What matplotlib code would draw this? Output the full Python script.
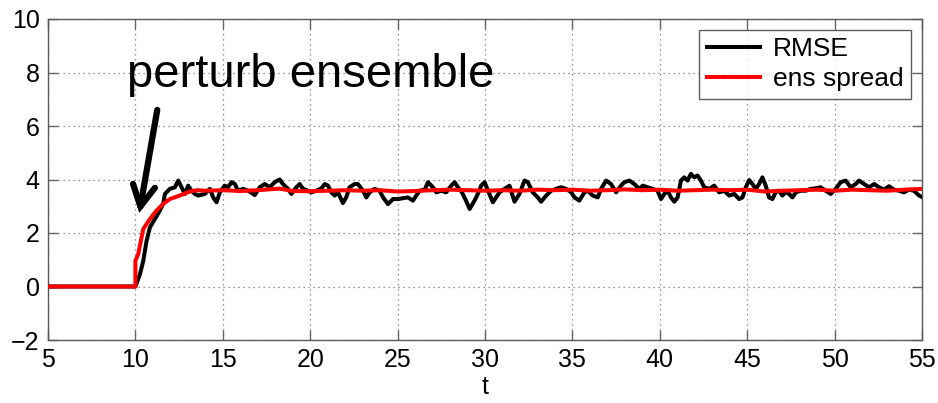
import matplotlib
matplotlib.use("Agg")
import matplotlib.pyplot as plt

plt.rcParams['font.family'] = ['Liberation Sans', 'DejaVu Sans']

# ---- data ----
t_rmse = [5.0, 10.0, 10.26, 10.45, 10.64, 10.83, 11.11, 11.40, 11.59, 11.69, 11.97, 12.26, 12.45,
          12.64, 12.83, 13.02, 13.21, 13.40, 13.59, 13.97, 14.26, 14.45, 14.64, 14.83, 15.11,
          15.30, 15.50, 15.69, 15.88, 16.16, 16.45,
          16.83, 17.11, 17.40, 17.68, 17.97, 18.25, 18.44, 18.73, 18.92, 19.21, 19.40, 19.59,
          19.87, 20.06, 20.35, 20.64, 20.83, 21.02, 21.21, 21.40, 21.59, 21.87, 22.06, 22.25,
          22.54, 22.73, 23.02, 23.21, 23.40, 23.68, 23.97,
          24.17, 24.45, 24.74, 25.02, 25.31, 25.59, 25.88, 26.07, 26.26, 26.55, 26.74, 27.02,
          27.21, 27.50, 27.78, 28.07, 28.26, 28.45, 28.68, 28.87, 29.12, 29.40, 29.59, 29.78,
          29.98, 30.17, 30.45,
          30.83, 31.12, 31.40, 31.69, 31.97, 32.26, 32.45, 32.73, 33.02, 33.21, 33.50, 33.78,
          34.07, 34.35, 34.64, 34.93, 35.12, 35.40, 35.69, 35.88, 36.16, 36.45, 36.64, 36.93,
          37.21, 37.50, 37.78,
          37.97, 38.26, 38.54, 38.83, 39.02, 39.30, 39.59, 39.87, 40.07, 40.26, 40.45, 40.64,
          40.83, 41.02, 41.21, 41.40, 41.59, 41.78, 41.97, 42.16, 42.35, 42.54, 42.83, 43.11,
          43.40, 43.68, 43.97, 44.26, 44.54, 44.73, 44.92,
          45.11, 45.30, 45.49, 45.68, 45.87, 46.06, 46.25, 46.44, 46.63, 46.82, 47.01, 47.20,
          47.40, 47.59, 47.78, 48.06, 48.35, 48.63, 48.92, 49.20, 49.49, 49.78, 50.06, 50.35,
          50.63, 50.92, 51.20,
          51.40, 51.69, 51.97, 52.26, 52.54, 52.83, 53.11, 53.40, 53.69, 53.97, 54.26, 54.54,
          54.83, 55.0]
rmse = [0.0, 0.0, 0.46, 0.96, 1.71, 2.21, 2.52, 2.84, 3.09, 3.46, 3.65, 3.71, 3.96,
        3.71, 3.46, 3.77, 3.58, 3.46, 3.40, 3.46, 3.65, 3.33, 3.15, 3.52, 3.77,
        3.71, 3.90, 3.83, 3.58, 3.65, 3.58,
        3.42, 3.71, 3.83, 3.71, 3.90, 4.00, 3.83, 3.65, 3.46, 3.71, 3.83, 3.65,
        3.58, 3.52, 3.58, 3.67, 3.83, 3.77, 3.52, 3.40, 3.52, 3.12, 3.33, 3.71,
        3.83, 3.83, 3.58, 3.33, 3.52, 3.65, 3.58,
        3.33, 3.08, 3.27, 3.27, 3.30, 3.33, 3.21, 3.40, 3.58, 3.62, 3.90, 3.71,
        3.52, 3.58, 3.52, 3.77, 3.90, 3.71, 3.52, 3.27, 2.90, 3.21, 3.46, 3.77,
        3.90, 3.58, 3.15,
        3.52, 3.65, 3.77, 3.17, 3.46, 3.96, 3.90, 3.52, 3.33, 3.17, 3.40, 3.58,
        3.65, 3.71, 3.65, 3.52, 3.33, 3.21, 3.52, 3.58, 3.40, 3.33, 3.65, 3.96,
        3.83, 3.52, 3.77,
        3.90, 3.96, 3.83, 3.65, 3.77, 3.71, 3.65, 3.58, 3.27, 3.46, 3.58, 3.33,
        3.17, 3.33, 3.96, 4.08, 3.96, 4.21, 4.08, 4.15, 3.96, 3.71, 3.65, 3.77,
        3.52, 3.58, 3.40, 3.46, 3.27, 3.33, 3.71,
        3.98, 3.83, 3.65, 3.83, 4.08, 3.77, 3.33, 3.27, 3.52, 3.58, 3.40, 3.52,
        3.46, 3.33, 3.52, 3.58, 3.58, 3.65, 3.67, 3.71, 3.58, 3.46, 3.65, 3.90,
        3.96, 3.71, 3.83,
        3.96, 3.83, 3.71, 3.83, 3.71, 3.62, 3.75, 3.62, 3.58, 3.52, 3.62, 3.58,
        3.40, 3.35]

t_spread = [5.0, 10.0, 10.0, 10.16, 10.45, 10.83, 11.21, 11.59, 11.97, 12.54, 13.11, 13.5,
            14.0, 15.0, 16.0, 17.0, 18.25, 19.0, 20.0, 21.0, 22.0, 23.0, 24.0, 25.0, 26.0,
            27.0, 28.0, 29.0, 30.0, 31.0, 32.0, 33.0, 34.0, 35.0, 36.0, 37.0, 38.0, 39.0,
            40.0, 41.0, 42.0, 43.0, 44.0, 45.0, 46.0, 47.0, 48.0, 49.0, 50.0, 51.0, 52.0,
            53.0, 54.0, 55.0]
spread = [0.0, 0.0, 0.96, 1.21, 2.15, 2.52, 2.84, 3.09, 3.27, 3.40, 3.55, 3.60,
          3.58, 3.60, 3.57, 3.60, 3.66, 3.57, 3.56, 3.58, 3.60, 3.58, 3.60, 3.55, 3.57,
          3.60, 3.62, 3.60, 3.58, 3.60, 3.58, 3.62, 3.60, 3.62, 3.58, 3.60, 3.63, 3.60,
          3.62, 3.58, 3.60, 3.62, 3.60, 3.62, 3.55, 3.58, 3.60, 3.62, 3.58, 3.62, 3.60,
          3.58, 3.62, 3.65]

x_ticks = [5, 10, 15, 20, 25, 30, 35, 40, 45, 50, 55]
y_ticks = [-2, 0, 2, 4, 6, 8, 10]
series_labels = ['RMSE', 'ens spread']
annotation_text = 'perturb ensemble'
x_label = 't'

# ---- figure ----
fig = plt.figure(figsize=(9.38, 4.03), dpi=100)
ax = fig.add_axes([48/938, 63/403, 874/938, 321/403])

ax.plot(t_rmse, rmse, color='black', lw=2.9, label=series_labels[0], zorder=3,
        solid_joinstyle='round')
ax.plot(t_spread, spread, color='red', lw=2.9, label=series_labels[1], zorder=4,
        solid_joinstyle='round')

ax.set_xlim(5, 55)
ax.set_ylim(-2, 10)
ax.set_xticks(x_ticks)
ax.set_yticks(y_ticks)
ax.set_yticklabels(['\u22122' if v < 0 else str(v) for v in y_ticks])
ax.tick_params(direction='in', length=7, width=1, color='0.4', labelsize=18, pad=6,
               top=True, right=True)
for s in ax.spines.values():
    s.set_color('0.35')
    s.set_linewidth(1)
ax.grid(True, linestyle=(0, (1, 3)), color='0.45', lw=0.9)
ax.set_axisbelow(True)
ax.set_xlabel(x_label, fontsize=18, labelpad=2)

ax.text(9.5, 7.45, annotation_text, fontsize=34, ha='left', va='baseline', zorder=5)
ax.annotate('', xy=(10.22, 2.75), xytext=(11.25, 6.6),
            arrowprops=dict(arrowstyle='->,head_length=1.5,head_width=0.8', lw=4.5,
                            color='black', shrinkA=0, shrinkB=0,
                            joinstyle='miter'), zorder=5)

leg = ax.legend(loc='upper right', fontsize=19, handlelength=2.0, frameon=True,
                fancybox=False, borderaxespad=0.4, borderpad=0.3, labelspacing=0.22,
                handletextpad=0.5)
leg.get_frame().set_edgecolor('0.2')
leg.get_frame().set_linewidth(1)

fig.savefig('out.png', dpi=100)
